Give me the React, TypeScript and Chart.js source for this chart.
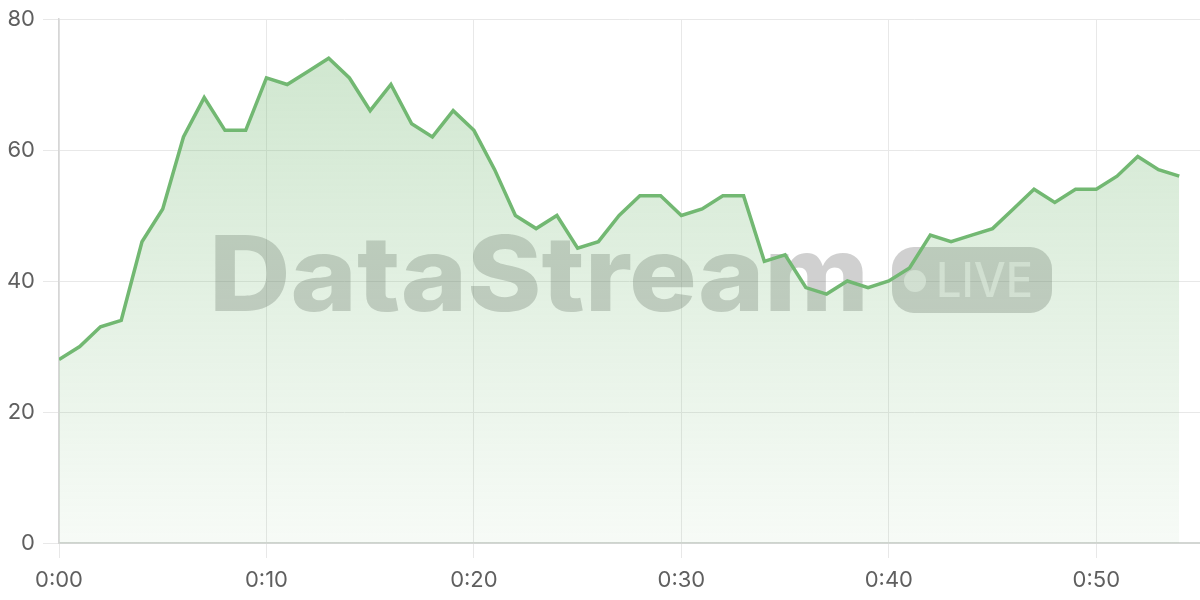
import React, { useEffect, useRef } from "react";
import { Chart, registerables } from "chart.js";

Chart.register(...registerables);

const MINUTES = [
  0, 1, 2, 3, 4, 5, 6, 7, 8, 9,
  10, 11, 12, 13, 14, 15, 16, 17, 18, 19,
  20, 21, 22, 23, 24, 25, 26, 27, 28, 29,
  30, 31, 32, 33, 34, 35, 36, 37, 38, 39,
  40, 41, 42, 43, 44, 45, 46, 47, 48, 49,
  50, 51, 52, 53, 54,
];

const VALUES = [
  28, 30, 33, 34, 46, 51, 62, 68, 63, 63,
  71, 70, 72, 74, 71, 66, 70, 64, 62, 66,
  63, 57, 50, 48, 50, 45, 46, 50, 53, 53,
  50, 51, 53, 53, 43, 44, 39, 38, 40, 39,
  40, 42, 47, 46, 47, 48, 51, 54, 52, 54,
  54, 56, 59, 57, 56,
];

const X_MIN = 0;
const X_MAX = 55;
const X_STEP = 10;
const Y_MIN = 0;
const Y_MAX = 80;
const Y_STEP = 20;

const WATERMARK_TEXT = "DataStream";
const BADGE_TEXT = "LIVE";

const LINE_COLOR = "#72b872";

const formatTime = (v: number) => {
  const m = Math.round(v);
  const h = Math.floor(m / 60);
  const mm = m % 60;
  return `${h}:${mm < 10 ? "0" + mm : mm}`;
};

const watermarkPlugin = {
  id: "watermark",
  beforeDatasetsDraw(chart: any) {
    const ctx: CanvasRenderingContext2D = chart.ctx;
    ctx.save();
    ctx.fillStyle = "rgba(100,100,100,0.3)";
    ctx.font = "800 104px Inter, 'DejaVu Sans', sans-serif";
    ctx.textBaseline = "alphabetic";
    const w = ctx.measureText(WATERMARK_TEXT).width;
    ctx.translate(209, 311);
    ctx.scale(660 / w, 1);
    ctx.fillText(WATERMARK_TEXT, 0, 0);
    ctx.restore();

    ctx.save();
    ctx.fillStyle = "rgba(100,100,100,0.3)";
    ctx.beginPath();
    (ctx as any).roundRect(892, 247, 160, 66, 22);
    ctx.fill();
    ctx.fillStyle = "rgba(255,255,255,0.55)";
    ctx.beginPath();
    ctx.arc(915, 281, 11, 0, Math.PI * 2);
    ctx.fill();
    ctx.font = "500 48px Inter, 'DejaVu Sans', sans-serif";
    const lw = ctx.measureText(BADGE_TEXT).width;
    ctx.translate(936, 297);
    ctx.scale(97 / lw, 1);
    ctx.fillText(BADGE_TEXT, 0, 0);
    ctx.restore();
  },
};

export default function App() {
  const canvasRef = useRef<HTMLCanvasElement | null>(null);

  useEffect(() => {
    const canvas = canvasRef.current;
    if (!canvas) return;
    const chart = new Chart(canvas, {
      type: "line",
      data: {
        datasets: [
          {
            data: MINUTES.map((m, i) => ({ x: m, y: VALUES[i] })),
            borderColor: LINE_COLOR,
            borderWidth: 3.5,
            pointRadius: 0,
            tension: 0,
            fill: "origin",
            backgroundColor: (context: any) => {
              const { ctx, chartArea } = context.chart;
              if (!chartArea) return "rgba(116,184,115,0.2)";
              const g = ctx.createLinearGradient(0, chartArea.top, 0, chartArea.bottom);
              g.addColorStop(0, "rgba(116,184,115,0.36)");
              g.addColorStop(1, "rgba(116,184,115,0.06)");
              return g;
            },
          },
        ],
      },
      options: {
        animation: false,
        responsive: false,
        maintainAspectRatio: false,
        layout: { padding: { top: 19, right: 0, left: 0, bottom: 0 } },
        plugins: {
          legend: { display: false },
          tooltip: { enabled: false },
        },
        scales: {
          x: {
            type: "linear",
            min: X_MIN,
            max: X_MAX,
            afterFit: (scale: any) => {
              scale.height = 57;
            },
            ticks: {
              stepSize: X_STEP,
              includeBounds: false,
              color: "#5f5f5f",
              font: { family: "Inter, 'Noto Sans', sans-serif", size: 22 },
              padding: 9,
              maxRotation: 0,
              callback: (v: any) => formatTime(Number(v)),
            },
            grid: {
              color: "#e8e8e8",
              lineWidth: 1,
              tickLength: 15,
              drawTicks: true,
            },
            border: { color: "#d3d6d3", width: 2 },
          },
          y: {
            min: Y_MIN,
            max: Y_MAX,
            afterFit: (scale: any) => {
              scale.width = 59;
            },
            ticks: {
              stepSize: Y_STEP,
              color: "#5f5f5f",
              font: { family: "Inter, 'Noto Sans', sans-serif", size: 22, lineHeight: 1 },
              padding: 8,
            },
            grid: {
              color: "#e8e8e8",
              lineWidth: 1,
              tickLength: 16,
            },
            border: { color: "#d6d6d6", width: 1.5 },
          },
        },
      },
      plugins: [watermarkPlugin],
    });
    return () => chart.destroy();
  }, []);

  return (
    <div style={{ position: "absolute", left: 0, top: 0, width: 1200, height: 600, background: "#fff" }}>
      <canvas ref={canvasRef} width={1200} height={600} style={{ display: "block" }} />
    </div>
  );
}
